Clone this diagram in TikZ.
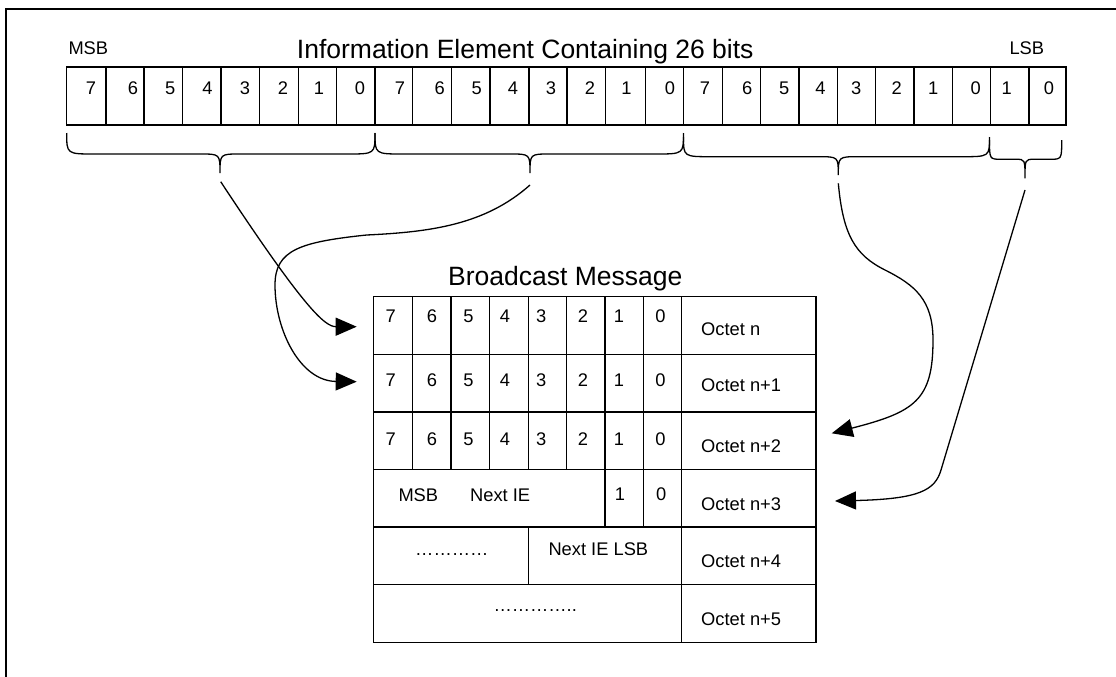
\documentclass[tikz,border=0pt]{standalone}
\usepackage{fontspec}
\setmainfont{Liberation Sans}
\usetikzlibrary{arrows.meta}
\begin{document}
\begin{tikzpicture}[x=1pt,y=-1pt,
  cell/.style={draw, line width=1.1pt, minimum height=58pt, anchor=north west, inner sep=0pt, outer sep=0pt},
  tcell/.style={draw, line width=1.4pt, minimum height=57.6pt, anchor=north west, inner sep=0pt, outer sep=0pt},
  lbl/.style={font=\fontsize{18.3}{20}\selectfont, inner sep=0pt, anchor=base},
  lblw/.style={lbl, anchor=base west},
  ttl/.style={font=\fontsize{26.5}{30}\selectfont, inner sep=0pt, anchor=base west},
  brc/.style={line width=1.3pt},
  conn/.style={line width=1.3pt, -{Triangle[length=21pt,width=18pt]}},
  frameline/.style={line width=2pt}]
\useasboundingbox (0,0) rectangle (1116,677);
% frame
\draw[frameline] (6,677) -- (6,9) -- (1116,9);
% titles
\node[ttl] (title) at (296.7,58.3) {Information Element Containing 26 bits};
\node[lblw] (msb) at (68.3,55) {MSB};
\node[lblw] (lsb) at (1009.3,55) {LSB};
% top row cells
\foreach \xa/\xb [count=\i from 0] in {66.7/106,106/144,144/182.3,182.3/221,221/259.7,259.7/298.3,298.3/336.7,336.7/375,
  375/412.7,412.7/451.7,451.7/490,490/529,529/567,567/605.3,605.3/645.7,645.7/683.7,
  683.7/722.3,722.3/760.7,760.7/799,799/837.3,837.3/875.7,875.7/914,914/952.3,952.3/990.7,
  990.7/1029,1029/1066}
  \node[cell, minimum width={\xb-\xa}] (t\i) at (\xa,67) {};
% top row digits
\foreach \x/\b [count=\i from 0] in {91/7,133/6,170.3/5,207.5/4,245/3,283/2,319/1,360/0,
  400/7,439.7/6,476.8/5,513/4,551/3,590/2,626.5/1,670/0,
  705/7,747.2/6,784.2/5,820.5/4,856.2/3,896.7/2,933.3/1,975.8/0,
  1006.7/1,1049/0}
  \node[lbl] (d\i) at (\x,94.3) {\b};
% braces
\foreach \xa/\xb/\xm/\yt/\h/\tp/\r/\s in {66.7/375/220/133/154/173/28/20,
  375/683.5/530/133/154/173/28/20,
  683.5/989.5/838.3/137/156.7/175/28/20,
  989.5/1061.7/1025/140/159.3/178.3/12/9}
  \draw[brc] (\xa,\yt) .. controls (\xa,\h) and (\xa,\h) .. ({\xa+\r},\h) -- ({\xm-\s},\h)
     .. controls (\xm,\h) and (\xm,\h) .. (\xm,\tp)
     .. controls (\xm,\h) and (\xm,\h) .. ({\xm+\s},\h) -- ({\xb-\r},\h)
     .. controls (\xb,\h) and (\xb,\h) .. (\xb,\yt);
% broadcast message
\node[ttl] (bm) at (448,285) {Broadcast Message};
\foreach \r/\yb in {0/322,1/386,2/445.5}{
  \foreach \xa/\xb/\xc/\b [count=\c from 0] in {373.5/412.3/390.8/7,412.3/451/432/6,451/489.7/468.5/5,
     489.7/528.3/505/4,528.3/566.7/541.2/3,566.7/605/583/2,605/643.3/619/1,643.3/681.7/660.5/0}{
    \node[tcell, minimum width={\xb-\xa}] (m\r-c\c) at (\xa,{296.7+\r*57.6}) {};
    \node[lbl] (m\r-d\c) at (\xc,\yb) {\b};
  }
}
% row n+3
\node[tcell, minimum width=231.5] (m3-w) at (373.5,469.5) {};
\node[tcell, minimum width=38.3] (m3-c6) at (605,469.5) {};
\node[tcell, minimum width=38.4] (m3-c7) at (643.3,469.5) {};
\node[lblw] (m3-t) at (398.3,501.5) {MSB\hspace{32pt}Next IE};
\node[lbl] (m3-d6) at (620,500.5) {1};
\node[lbl] (m3-d7) at (661.3,500.5) {0};
% row n+4
\node[tcell, minimum width=154.8] (m4-a) at (373.5,527.1) {};
\node[tcell, minimum width=153.4] (m4-b) at (528.3,527.1) {};
\node[lblw] (m4-ta) at (415,555) {…………};
\node[lblw] (m4-tb) at (548.3,555) {Next IE LSB};
% row n+5
\node[tcell, minimum width=308.2] (m5-a) at (373.5,584.7) {};
\node[lblw] (m5-ta) at (493.3,611.7) {…………..};
% octet column
\foreach \r/\t/\yb in {0/Octet n/335.7,1/Octet n+1/391.7,2/Octet n+2/452.7,3/Octet n+3/510.7,4/Octet n+4/567.3,5/Octet n+5/625.7}{
  \node[tcell, minimum width=134.3] (o\r) at (681.7,{296.7+\r*57.6}) {};
  \node[lblw] (ol\r) at (701,\yb) {\t};
}
% connector ends
\coordinate (s1) at (220.7,181.7); \coordinate (e1) at (356.7,326.7);
\coordinate (s2) at (530,185);     \coordinate (e2) at (356.7,381.7);
\coordinate (s3) at (838.3,183.3); \coordinate (e3) at (831.7,433.3);
\coordinate (s4) at (1025,190);    \coordinate (e4) at (835,501);
% connectors
\draw[conn] (s1) .. controls (304.7,309.2) and (325,326.7) .. (e1);
\draw[conn] (s2) .. controls (485,225) and (430,232) .. (366.7,235)
   .. controls (300,242) and (275,250) .. (275,285)
   .. controls (275,330) and (300,381) .. (e2);
\draw[conn] (s3) .. controls (843,235) and (855,255) .. (885,270)
   .. controls (915,285) and (933,300) .. (933,340)
   .. controls (933,400) and (915,412) .. (e3);
\draw[conn] (s4) -- (941,470) .. controls (935,490) and (920,499) .. (e4);
\end{tikzpicture}
\end{document}
